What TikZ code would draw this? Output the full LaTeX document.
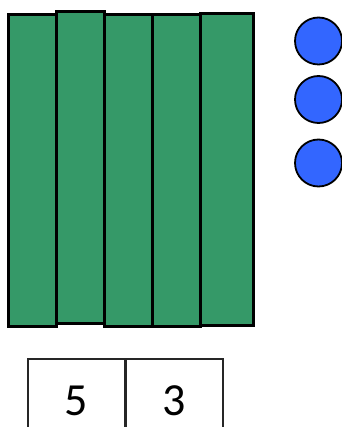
\documentclass[tikz,border=0pt]{standalone}
\usepackage{fontspec}
\setmainfont{Carlito}
\usepackage{tikz}
\usetikzlibrary{positioning, shapes}
\definecolor{rodgreen}{RGB}{53, 153, 104}
\definecolor{unitblue}{RGB}{51, 102, 255}

\begin{document}
\begin{tikzpicture}[
    x=1pt, y=-1pt,
    rod/.style={rectangle, draw=black, line width=2.8pt, fill=rodgreen, minimum width=48pt, minimum height=312pt, anchor=north west, inner sep=0pt},
    unit/.style={circle, draw=black, line width=1.8pt, fill=unitblue, minimum size=47pt, inner sep=0pt},
    cell/.style={rectangle, draw=black!85, line width=1.5pt, minimum width=97pt, minimum height=84pt, anchor=north west, inner sep=0pt, font=\fontsize{46}{46}\selectfont}
]
    \useasboundingbox (0, 0) rectangle (341, 427);

    % Tens rods
    \node[rod] (rodA) at (7, 13) {};
    \node[rod] (rodB) at (55, 10) {};
    \node[rod] (rodC) at (103, 13) {};
    \node[rod] (rodD) at (151, 13) {};
    \node[rod, minimum width=53pt] (rodE) at (199, 12) {};

    % Ones
    \node[unit] (oneA) at (318.5, 41) {};
    \node[unit] (oneB) at (318.5, 99.5) {};
    \node[unit] (oneC) at (318.5, 163) {};

    % Place value chart
    \node[cell] (tens) at (27, 358) {5};
    \node[cell] (ones) at (125, 358) {3};
\end{tikzpicture}
\end{document}
